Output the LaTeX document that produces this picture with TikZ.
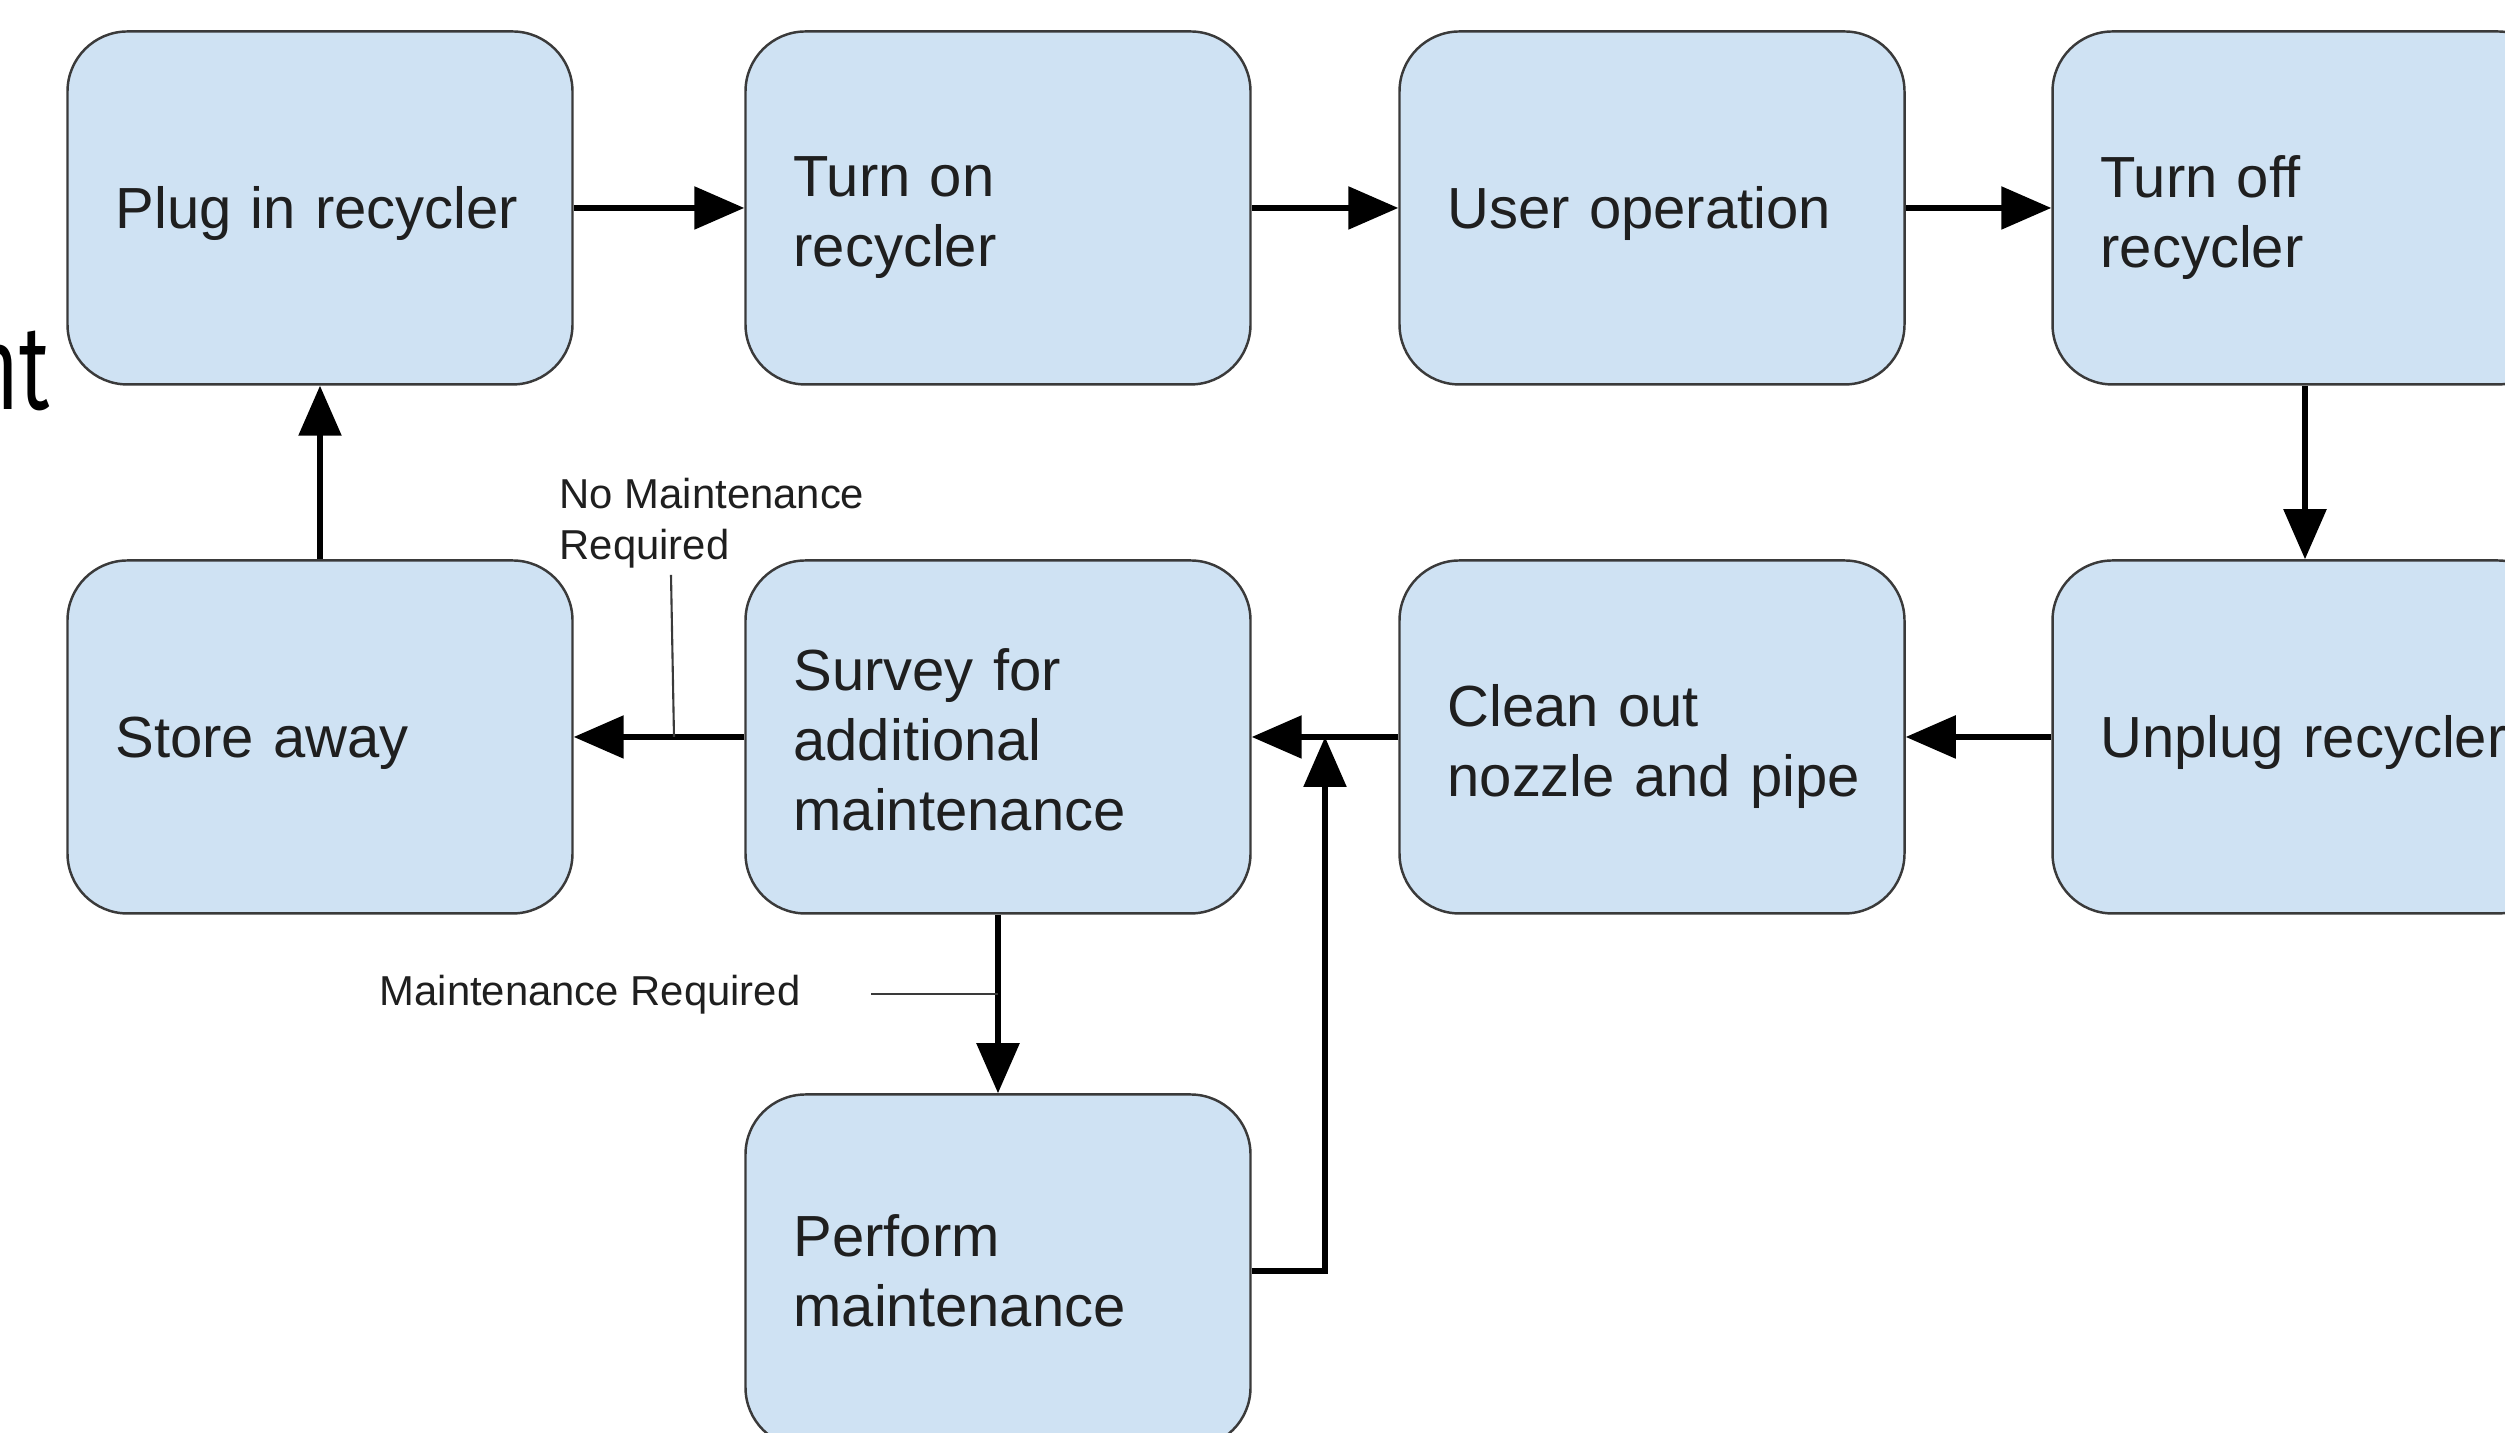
\documentclass[tikz,border=0pt]{standalone}
\usepackage{fontspec}
\setmainfont{Liberation Sans}
\newfontfamily\titlefont{Fira Sans}
\usetikzlibrary{arrows.meta,calc}
\definecolor{boxblue}{HTML}{CFE2F3}
\definecolor{boxline}{HTML}{3A3A3A}
\definecolor{inktext}{HTML}{1F1F1F}

\begin{document}
\begin{tikzpicture}[stage/.style={draw=boxline, line width=0.7pt, fill=boxblue, rounded corners=0.6cm,
		minimum width=5.05cm, minimum height=3.53cm, text width=4.09cm, inner xsep=0.48cm,
		align=left, text=inktext, font=\fontsize{16.5}{19.9}\selectfont,
		execute at end node={\endgraf\vspace*{-#1}}},
	stage/.default=0.19cm,
	flow/.style={line width=1.6pt, -{Triangle[length=0.5cm, width=0.42cm]}},
	note/.style={font=\fontsize{11.9}{14.5}\selectfont, text=inktext, align=left, inner sep=0pt},
	noteline/.style={line width=0.6pt, boxline}]

		\def \xa {3.2}
		\def \xb {9.98}
		\def \xc {16.52}
		\def \xd {23.05}
		\def \ya {12.25}
		\def \yb {6.96}
		\def \yc {1.62}

		\path[use as bounding box, fill=white] (0,0) rectangle (25.05,14.33);
		\clip (0,0) rectangle (25.05,14.33);

		\node[font=\titlefont\fontsize{34}{40}\selectfont, anchor=base east, inner sep=0pt, xscale=0.7, transform shape] (title) at (0.50,10.23) {nt};

		\node[stage] (plug) at (\xa,\ya) {Plug in recycler};
		\node[stage] (turnon) at (\xb,\ya) {Turn on\\recycler};
		\node[stage] (useop) at (\xc,\ya) {User operation};
		\node[stage] (turnoff) at (\xd,\ya) {Turn off\\recycler};

		\node[stage] (store) at (\xa,\yb) {Store away};
		\node[stage=0.06cm] (survey) at (\xb,\yb) {Survey for\\additional\\maintenance};
		\node[stage] (clean) at (\xc,\yb) {Clean out\\\mbox{nozzle and pipe}};
		\node[stage] (unplug) at (\xd,\yb) {\mbox{Unplug recycler}};

		\node[stage=0cm] (perform) at (\xb,\yc) {Perform\\maintenance};

		\draw[flow] (plug) -- (turnon);
		\draw[flow] (turnon) -- (useop);
		\draw[flow] (useop) -- (turnoff);
		\draw[flow] (turnoff) -- (unplug);
		\draw[flow] (unplug) -- (clean);
		\draw[flow] (clean) -- (survey);
		\draw[flow] (survey) -- (store);
		\draw[flow] (store) -- (plug);
		\draw[flow] (survey) -- (perform);

		\coordinate (join) at ($(survey.east)!.5!(clean.west)$);
		\draw[flow] (perform.east) -| (join);

		\node[note, anchor=west] (nomaint) at (5.59,9.1) {No Maintenance\\Required};
		\coordinate (nmtop) at (6.71,8.58);
		\coordinate (nmfoot) at (6.74,\yb);
		\draw[noteline] (nmtop) -- (nmfoot);

		\node[note, anchor=west] (maint) at (3.79,4.38) {Maintenance Required};
		\coordinate (mtail) at (8.71,4.39);
		\draw[noteline] (mtail) -- (survey.south |- mtail);
%		\draw[noteline] (maint.east) -- (mtail);

	\end{tikzpicture}
\end{document}
